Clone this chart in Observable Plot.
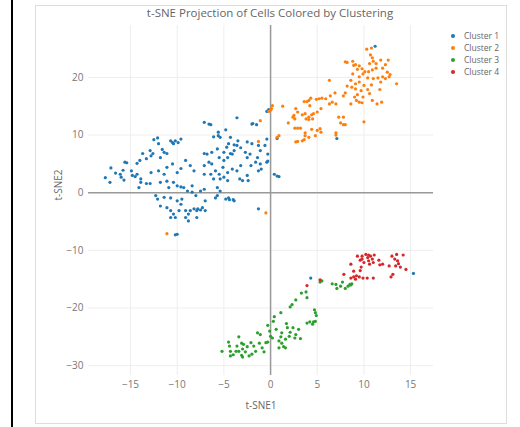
<!DOCTYPE html>
<html><head><meta charset="utf-8">
<script src="https://cdn.jsdelivr.net/npm/d3@7"></script>
<script src="https://cdn.jsdelivr.net/npm/@observablehq/plot@0.6"></script>
<style>
body{margin:0;background:#fff;font-family:"Open Sans",sans-serif;}
#wrap{position:relative;width:520px;height:427px;overflow:hidden;}
#blk{position:absolute;left:11px;top:0;width:2px;height:427px;background:#000;}
#box{position:absolute;left:35px;top:5px;width:472px;height:419px;border:1px solid #ddd;box-sizing:border-box;}
#title{position:absolute;left:0;width:540px;top:5px;text-align:center;font-size:11.5px;color:#666;}
#legend{position:absolute;left:451px;top:30px;font-size:8.5px;color:#666;line-height:12px;}
#legend div{height:12px;white-space:nowrap;}
#legend span.m{display:inline-block;width:4px;height:4px;border-radius:2px;margin-right:9px;vertical-align:middle;position:relative;top:-1px;}
svg{position:absolute;left:0;top:0;}
</style></head>
<body><div id="wrap"><div id="blk"></div><div id="box"></div><div id="chart"></div><div id="title"></div><div id="legend"></div></div>
<script>
const titleText = "t-SNE Projection of Cells Colored by Clustering";
const xLabel = "t-SNE1";
const yLabel = "t-SNE2";
const clusterNames = ["Cluster 1","Cluster 2","Cluster 3","Cluster 4"];
const clusterColors = ["#1f77b4","#ff7f0e","#2ca02c","#d62728"];
const xTicks = [-15,-10,-5,0,5,10,15];
const yTicks = [-30,-20,-10,0,10,20];

const cluster1 = [[-7.1,12.2],[-6.6,11.9],[-6.4,11.8],[-4.8,10.9],[-3.6,13.0],[-2.0,11.9],[-1.5,11.8],[-5.6,10.5],[-5.6,9.9],[-6.1,9.7],[-5.4,9.6],[-4.3,9.6],[-3.5,9.0],[-2.5,8.8],[-0.4,9.3],[-1.1,7.3],[-0.6,8.2],[-1.3,8.2],[-2.0,8.5],[-3.9,8.3],[-4.5,8.5],[-4.7,7.9],[-3.6,8.2],[-3.2,7.8],[-3.9,7.3],[-4.3,6.8],[-5.0,7.0],[-5.7,7.6],[-6.3,7.0],[-6.8,6.7],[-7.1,6.8],[-5.5,6.1],[-5.0,5.6],[-4.6,6.1],[-4.1,6.7],[-2.7,7.0],[-2.2,6.7],[-2.5,6.1],[-1.4,6.1],[-1.6,5.3],[-1.1,5.0],[-1.0,4.1],[-0.4,5.3],[-0.3,6.7],[0.4,3.2],[0.7,2.9],[-1.3,3.8],[-2.1,4.7],[-3.2,4.7],[-3.6,3.8],[-4.1,4.1],[-4.6,3.5],[-5.0,2.7],[-5.1,4.4],[-5.5,3.2],[-5.9,3.8],[-6.3,5.0],[-6.6,5.3],[-7.1,4.7],[-7.1,3.2],[-6.4,3.2],[-6.1,2.4],[-5.4,2.4],[-4.6,2.1],[-3.3,2.4],[-3.0,2.1],[-2.5,3.0],[-5.7,0.9],[-7.1,0.6],[-7.5,0.3],[-5.4,0.3],[-5.7,-0.5],[-5.9,-0.9],[-4.8,-1.1],[-4.5,-0.9],[-3.9,-1.4],[-7.0,-1.4],[-7.3,-2.6],[-7.9,-3.1],[-7.8,-2.8],[-7.5,-3.0],[-7.0,-3.1],[-8.6,-3.1],[-8.8,-3.7],[-9.1,-4.3],[-8.8,-4.9],[-7.9,-4.3],[-1.3,-2.8],[-10.2,-7.3],[-10.0,-7.2],
[-17.7,2.6],[-17.2,1.8],[-17.1,4.3],[-16.6,3.4],[-16.1,3.2],[-15.8,3.9],[-15.7,2.2],[-16.0,2.7],[-15.6,5.3],[-15.4,5.2],[-14.9,3.8],[-14.8,3.0],[-14.5,2.8],[-14.3,3.2],[-13.9,2.4],[-14.1,0.9],[-13.9,1.8],[-13.3,1.6],[-12.9,1.6],[-14.3,5.1],[-14.0,5.6],[-13.7,6.8],[-13.3,5.9],[-12.9,7.3],[-12.6,6.8],[-12.8,6.4],[-12.5,9.2],[-12.1,9.5],[-12.0,8.5],[-11.8,6.1],[-11.6,7.5],[-11.4,7.0],[-11.1,6.8],[-10.7,9.0],[-10.5,8.7],[-10.4,8.5],[-10.2,9.0],[-9.9,8.7],[-9.6,9.3],[-12.8,3.5],[-12.0,3.8],[-11.4,3.2],[-11.1,4.4],[-10.5,5.0],[-10.0,3.5],[-9.6,4.2],[-9.1,5.6],[-8.6,4.7],[-8.2,3.8],[-11.8,1.8],[-11.1,2.0],[-10.9,0.9],[-10.4,1.8],[-10.0,1.2],[-9.6,1.0],[-9.3,0.9],[-8.4,1.2],[-8.9,0.3],[-8.4,0.1],[-8.0,-0.5],[-12.3,-0.5],[-12.1,-1.1],[-11.4,-0.8],[-10.7,-0.9],[-10.0,-1.4],[-9.5,-1.1],[-11.8,-2.3],[-11.1,-2.6],[-10.7,-3.1],[-10.4,-3.7],[-9.8,-3.1],[-10.2,-4.3],[-9.1,-3.1],[-10.7,-4.3],[-9.6,-2.0],[-8.2,-2.8],
[-1.9,12.0],[-0.3,5.5],[0.9,2.8],[0.7,9.4],[7.1,9.4],[-0.2,14.4],[-0.4,14.1],[4.3,-14.8],[15.3,-14.0],[11.2,25.4],[-4.4,-1.2],[-4.0,-1.2],[-2.4,2.1]];

const cluster2 = [[10.8,25.1],[10.3,24.9],[10.7,23.9],[10.9,23.4],[11.0,22.8],[10.6,22.4],[11.3,22.4],[11.8,23.0],[12.6,23.0],[12.3,22.2],[12.0,21.6],[11.3,21.6],[10.9,21.3],[10.5,21.0],[10.1,21.0],[9.8,21.5],[9.5,22.0],[9.1,22.2],[8.8,22.8],[8.0,22.7],[8.2,22.6],[8.9,22.1],[9.3,21.4],[8.8,20.6],[9.5,20.1],[9.9,20.6],[10.4,19.9],[11.0,19.8],[11.5,19.9],[12.0,20.1],[12.5,20.9],[12.8,20.5],[12.7,20.1],[12.3,19.8],[11.8,19.2],[11.7,17.9],[10.8,18.7],[10.0,18.6],[9.5,19.2],[9.1,18.9],[8.6,19.5],[8.2,18.5],[8.7,18.3],[9.1,18.0],[9.7,17.7],[10.4,17.9],[10.6,17.2],[9.9,16.6],[9.3,17.0],[9.0,16.6],[9.2,16.0],[9.5,15.7],[9.8,15.6],[10.9,16.0],[11.4,15.4],[11.9,15.7],[13.5,18.9],[8.6,15.4],[8.0,17.3],[7.8,16.8],[6.9,17.3],[6.4,16.8],[6.3,19.5],[7.0,15.4],[5.9,16.3],[5.5,16.4],[5.2,16.3],[4.9,16.2],[4.3,16.4],[4.1,16.0],[3.9,15.8],[3.6,15.8],[4.2,15.1],[5.4,14.6],[5.0,14.0],[4.6,13.7],[4.4,13.5],[4.1,13.1],[3.7,13.7],[3.4,13.5],[2.7,14.6],[2.9,14.0],[2.5,13.4],[2.6,12.8],[2.4,13.1],[1.9,12.1],[1.3,15.0],[0.2,15.1],[0.1,14.6],[0.0,14.3],[3.8,12.8],[4.1,12.7],[4.5,12.8],[2.6,11.2],[2.9,11.2],[3.2,11.2],[3.7,10.4],[3.7,9.9],[4.1,9.6],[4.4,11.0],[4.8,9.9],[5.0,10.8],[5.4,10.5],[5.3,11.1],[3.6,9.2],[3.4,9.0],[2.7,8.8],[2.9,8.9],[0.9,9.9],[0.7,9.6],[-1.3,8.9],[7.3,13.1],[7.8,13.1],[7.5,12.1],[7.8,11.8],[8.0,11.8],[10.0,12.3],[7.0,10.4],[7.0,10.0],[6.3,15.4],[6.6,15.7],[-1.1,12.5],[-11.1,-7.1],[-0.5,-3.5],[-0.2,14.1]];

const cluster3 = [[-5.2,-27.5],[-4.5,-25.9],[-4.4,-26.6],[-4.3,-27.5],[-4.0,-28.1],[-3.6,-26.6],[-3.4,-25.0],[-3.4,-27.5],[-3.1,-26.1],[-3.0,-27.1],[-3.1,-28.2],[-2.9,-26.3],[-2.7,-27.6],[-2.5,-26.7],[-2.1,-26.0],[-2.0,-28.0],[-1.8,-26.6],[-1.6,-27.5],[-1.4,-24.3],[-1.2,-26.1],[-1.1,-24.6],[-0.9,-26.9],[-0.7,-27.6],[-0.5,-26.0],[-0.3,-25.9],[-0.3,-23.0],[-0.1,-24.0],[0.0,-24.9],[0.2,-25.2],[0.3,-22.3],[0.4,-21.5],[0.6,-23.7],[0.9,-25.7],[0.9,-26.9],[1.1,-25.0],[1.2,-24.3],[1.2,-26.1],[1.4,-26.7],[1.6,-25.4],[1.7,-22.7],[1.8,-23.4],[2.0,-24.9],[2.1,-24.2],[2.4,-23.4],[2.6,-25.2],[2.7,-24.6],[3.0,-23.7],[3.2,-25.3],[1.1,-20.8],[2.1,-19.8],[2.3,-19.4],[2.7,-18.6],[3.3,-17.4],[3.8,-17.2],[3.9,-18.2],[3.9,-22.6],[4.2,-22.4],[4.5,-22.8],[4.6,-22.4],[4.7,-20.3],[4.8,-20.8],[4.9,-21.3],[4.8,-22.3],[5.3,-15.5],[-4.3,-28.3],[-3.7,-27.5],[-2.3,-28.3],[-3.0,-28.5],[1.6,-26.9],
[6.6,-15.8],[7.0,-15.9],[7.1,-16.6],[7.5,-16.2],[7.7,-15.5],[8.0,-16.6],[8.3,-16.2],[8.5,-15.9],[8.6,-16.0],[8.7,-15.8],[5.5,-15.3]];

const cluster4 = [[7.85,-14.15],[8.6,-12.4],[8.6,-14.8],[8.9,-14.6],[9.2,-14.4],[9.1,-15.0],[9.6,-13.5],[9.5,-14.6],[9.7,-12.9],[9.8,-11.5],[9.8,-11.0],[10.0,-12.1],[10.2,-10.7],[10.4,-11.25],[10.5,-10.8],[10.5,-11.8],[10.7,-11.0],[10.9,-11.5],[11.0,-12.1],[11.1,-10.8],[10.6,-12.4],[10.35,-14.8],[9.9,-14.8],[11.0,-14.8],[11.6,-11.7],[11.7,-12.5],[12.0,-12.4],[12.7,-12.7],[12.9,-14.6],[13.1,-14.15],[13.0,-11.0],[13.3,-11.5],[13.5,-10.7],[13.6,-11.8],[13.7,-12.3],[13.9,-12.9],[13.4,-12.7],[14.2,-10.8],[14.5,-13.3],[9.3,-11.0],[9.6,-11.7],[8.9,-13.6],[3.9,-16.1],[5.3,-15.1]];

const clusters = [cluster1, cluster2, cluster3, cluster4];
const points = clusters.flatMap((c, i) => c.map(([x, y]) => ({x, y, cluster: clusterNames[i]})));
const fmt = d => d < 0 ? "\u2212" + Math.abs(d) : String(d);

const plot = Plot.plot({
  width: 520, height: 427,
  marginLeft: 88, marginRight: 87, marginTop: 25, marginBottom: 52,
  style: {fontFamily: '"Open Sans", sans-serif', fontSize: "10px", color: "#777", background: "transparent"},
  x: {domain: [-19.5, 17.45], ticks: xTicks, tickSize: 0, tickPadding: 5, label: null, tickFormat: fmt},
  y: {domain: [-31.7, 29.0], ticks: yTicks, tickSize: 0, tickPadding: 5, label: null, tickFormat: fmt},
  color: {domain: clusterNames, range: clusterColors},
  marks: [
    Plot.gridX(xTicks, {stroke: "#eee", strokeOpacity: 1}),
    Plot.gridY(yTicks, {stroke: "#eee", strokeOpacity: 1}),
    Plot.ruleX([0], {stroke: "#999", strokeWidth: 1.5}),
    Plot.ruleY([0], {stroke: "#999", strokeWidth: 1.5}),
    Plot.dot(points, {x: "x", y: "y", fill: "cluster", r: 1.6, stroke: null}),
    Plot.axisX({ticks: xTicks, tickSize: 0, tickPadding: 5, label: null, tickFormat: fmt}),
    Plot.axisY({ticks: yTicks, tickSize: 0, tickPadding: 5, label: null, tickFormat: fmt}),
    Plot.text([xLabel], {frameAnchor: "bottom", dy: 33, fontSize: 10, fill: "#666"}),
    Plot.text([yLabel], {frameAnchor: "left", dx: -30, rotate: -90, fontSize: 10, fill: "#666"})
  ]
});
document.getElementById("chart").appendChild(plot);
document.getElementById("title").textContent = titleText;
const lg = document.getElementById("legend");
clusterNames.forEach((n, i) => {
  const row = document.createElement("div");
  const m = document.createElement("span");
  m.className = "m"; m.style.background = clusterColors[i];
  row.appendChild(m);
  row.appendChild(document.createTextNode(n));
  lg.appendChild(row);
});
</script></body></html>
